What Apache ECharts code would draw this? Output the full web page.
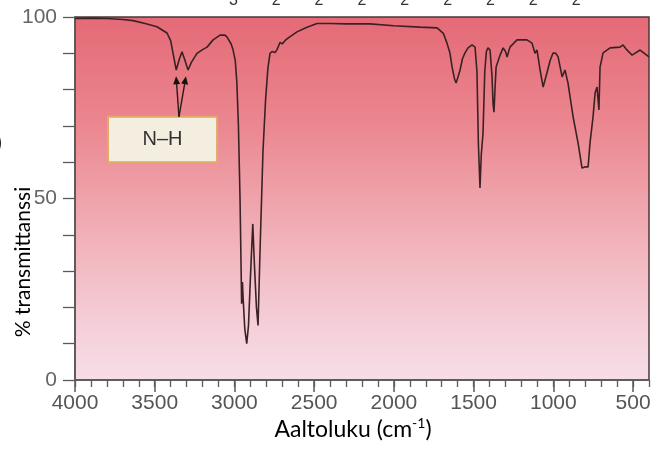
<!DOCTYPE html>
<html><head><meta charset="utf-8">
<script src="https://cdn.jsdelivr.net/npm/echarts@6/dist/echarts.min.js"></script>
<style>html,body{margin:0;padding:0;background:#fff;overflow:hidden}#c{width:652px;height:462px}</style>
</head><body><div id="c"></div>
<script>
// IR spectrum (octylamine) – wavenumber (cm-1) and % transmittance
const wavenumbers = [4000,3900,3800,3700,3636,3560,3486,3423,3400,3385,3365,3345,3329,3310,3291,3270,3235,3200,3172,3134,3090,3060,3047,3020,3009,2995,2985,2975,2965,2958,2955,2950,2945,2935,2923,2912,2900,2885,2875,2862,2852,2840,2821,2805,2790,2777,2764,2745,2733,2714,2700,2680,2664,2608,2545,2482,2400,2300,2150,2000,1836,1729,1690,1667,1648,1635,1620,1610,1598,1585,1570,1554,1535,1510,1491,1479,1470,1460,1452,1441,1430,1420,1410,1397,1385,1378,1372,1366,1359,1334,1315,1300,1290,1272,1228,1165,1134,1115,1102,1083,1064,1039,1020,1002,985,970,945,927,908,876,845,820,801,782,770,751,738,726,718,714,707,688,644,582,563,540,506,456,400];
const transmittance = [99.6,99.7,99.6,99.3,99.0,98.2,97.3,95.6,93.5,90.0,85.4,88.5,90.4,88.0,85.4,87.5,90.0,91.0,91.7,93.7,95.0,95.0,94.5,92.5,91.0,88.0,82.0,70.0,50.0,30.0,21.0,27.0,22.0,14.0,10.0,15.0,28.0,43.0,32.0,20.0,15.0,35.0,63.0,77.0,86.0,90.0,90.5,90.2,91.0,93.0,92.6,93.6,94.2,95.9,97.2,98.2,98.2,98.1,98.1,97.6,97.2,97.0,95.5,92.8,90.0,86.2,83.0,81.8,83.5,85.4,88.5,90.1,91.5,92.3,91.7,85.0,65.0,52.9,62.0,68.0,85.0,90.5,91.5,90.9,84.0,76.0,73.8,80.0,86.2,89.5,91.5,90.5,89.0,91.7,93.7,93.7,92.8,90.0,90.9,85.4,80.7,84.8,88.0,90.1,90.0,89.0,83.5,85.4,81.8,72.5,65.3,58.4,58.7,58.7,65.3,72.5,79.1,80.7,80.4,74.4,86.2,90.1,91.5,91.7,92.3,91.0,89.5,90.9,89.0];
const xTickLabels = [4000,3500,3000,2500,2000,1500,1000,500];
const xMinorTicks = [4000,3900,3800,3700,3600,3500,3400,3300,3200,3100,3000,2900,2800,2700,2600,2500,2400,2300,2200,2100,2000,1900,1800,1700,1600,1500,1400,1300,1200,1100,1000,900,800,700,600,500,400];
const yTickValues = [0,10,20,30,40,50,60,70,80,90,100];
const yTickLabels = [0,50,100];
const annotationLabel = 'N–H';
const nhPeakTargets = [3366, 3304];
const formulaGroups = [['CH','3'],['CH','2'],['CH','2'],['CH','2'],['CH','2'],['CH','2'],['CH','2'],['CH','2'],['NH','2']];

const chart = echarts.init(document.getElementById('c'), null, {renderer:'canvas'});
const seriesData = wavenumbers.map((w,i)=>[w, transmittance[i]]);
const bg = new echarts.graphic.LinearGradient(0,0,0,1,[
  {offset:0, color:'#e46a76'},
  {offset:0.3, color:'#eb8790'},
  {offset:0.6, color:'#f1b0b8'},
  {offset:0.85, color:'#f5cfd9'},
  {offset:1, color:'#f6dde8'}
]);
const tickColor = '#5a5a5a';
chart.setOption({
  animation:false,
  grid:{left:75, right:3, top:17, bottom:82, show:true, containLabel:false, outerBoundsMode:'none',
    backgroundColor:bg, borderColor:'#4a3838', borderWidth:1.5},
  xAxis:[{
    type:'value', min:400, max:4000, inverse:true, position:'bottom',
    axisLine:{lineStyle:{color:tickColor, width:1.5}},
    axisTick:{customValues:xTickLabels, length:12, lineStyle:{color:tickColor, width:1.5}},
    axisLabel:{customValues:xTickLabels, formatter:v=>String(v), fontSize:21, color:'#555', margin:13, fontFamily:'Liberation Sans'},
    splitLine:{show:false}
  },{
    type:'value', min:400, max:4000, inverse:true, position:'bottom',
    axisLine:{show:false},
    axisTick:{customValues:xMinorTicks, length:7, lineStyle:{color:tickColor, width:1.3}},
    axisLabel:{show:false}, splitLine:{show:false}
  }],
  yAxis:{
    type:'value', min:0, max:100,
    axisLine:{show:true, lineStyle:{color:tickColor, width:1.5}},
    axisTick:{customValues:yTickValues, length:12, lineStyle:{color:tickColor, width:1.3}},
    axisLabel:{customValues:yTickLabels, formatter:v=>String(v), fontSize:21, color:'#666', margin:18, fontFamily:'Liberation Sans'},
    splitLine:{show:false}
  },
  series:[{type:'line', xAxisIndex:0, data:seriesData, symbol:'none', lineStyle:{color:'#3a2224', width:1.6}}]
});

function px(v,t){ return chart.convertToPixel({xAxisIndex:0, yAxisIndex:0}, [v,t]); }
const boxA = px(3793, 72.5), boxB = px(3109, 60);
const origin = px(3348, 72.5);
const elems = [];
elems.push({type:'rect', shape:{x:boxA[0], y:boxA[1], width:boxB[0]-boxA[0], height:boxB[1]-boxA[1]},
  style:{fill:'#f3eedf', stroke:'#e2aa66', lineWidth:2}, z:10});
elems.push({type:'text', x:(boxA[0]+boxB[0])/2, y:(boxA[1]+boxB[1])/2,
  style:{text:annotationLabel, font:'20px "Liberation Sans"', fill:'#333', align:'center', verticalAlign:'middle'}, z:11});
nhPeakTargets.forEach(w=>{
  const tip = px(w, 83.7);
  const dx = tip[0]-origin[0], dy = tip[1]-origin[1];
  const L = Math.hypot(dx,dy), ux = dx/L, uy = dy/L;
  const hl = 8, hw = 3.5;
  const bx = tip[0]-ux*hl, by = tip[1]-uy*hl;
  elems.push({type:'line', shape:{x1:origin[0], y1:origin[1], x2:bx, y2:by}, style:{stroke:'#2a1a1a', lineWidth:1.4}, z:10});
  elems.push({type:'polygon', shape:{points:[[tip[0],tip[1]],[bx-uy*hw, by+ux*hw],[bx+uy*hw, by-ux*hw]]}, style:{fill:'#1a1010'}, z:10});
});
elems.push({type:'text', x:23, y:262, rotation:Math.PI/2,
  style:{text:'% transmittanssi', font:'21px Lato', fill:'#000', align:'center', verticalAlign:'middle'}});
elems.push({type:'text', x:353, y:430,
  style:{text:'Aaltoluku (cm{sup|-1})', font:'23px Lato', fill:'#000', align:'center', verticalAlign:'middle',
    rich:{sup:{fontSize:14, fontFamily:'Lato', fill:'#000', verticalAlign:'top', lineHeight:27}}}});
const formulaRich = formulaGroups.map(g=>'{m|'+g[0]+'}{s|'+g[1]+'}').join('');
elems.push({type:'text', x:195, y:-23,
  style:{text:formulaRich, fill:'#333', align:'left', verticalAlign:'top',
    rich:{
      m:{fontSize:23.5, fontFamily:'Liberation Sans', fill:'#333', lineHeight:24, verticalAlign:'top'},
      s:{fontSize:16, fontFamily:'Liberation Sans', fill:'#333', lineHeight:16, padding:[16,0,0,0], verticalAlign:'top'}
    }}});
elems.push({type:'text', x:-4, y:143,
  style:{text:')', font:'22px Lato', fill:'#000', align:'left', verticalAlign:'middle'}});
chart.setOption({graphic:elems});
</script></body></html>
